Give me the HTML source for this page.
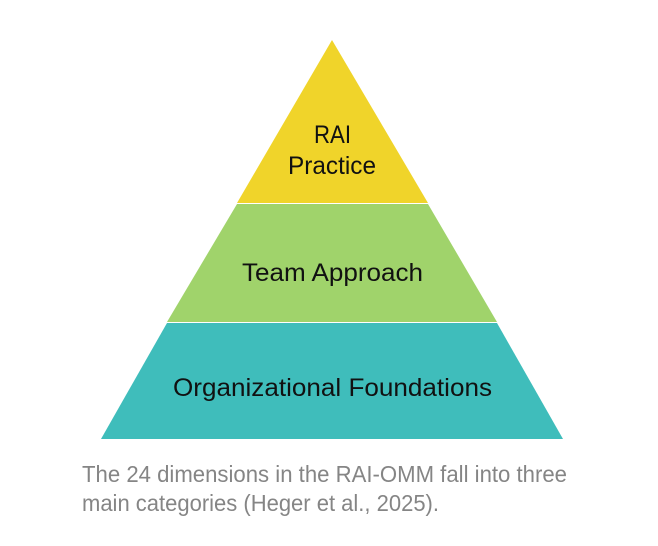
<!DOCTYPE html>
<html><head><meta charset="utf-8"><style>
html,body{margin:0;padding:0;background:#fff;}
svg{display:block;}
</style></head><body>
<svg width="658" height="546" viewBox="0 0 658 546" xmlns="http://www.w3.org/2000/svg">
<rect width="658" height="546" fill="#fff"/>
<polygon points="332,40 428,203 237,203" fill="#F0D42A"/>
<polygon points="237,204 428,204 497,322 167,322" fill="#A0D36B"/>
<polygon points="167,323 497,323 563,439 101,439" fill="#3FBDBB"/>
<g font-family="'Liberation Sans',sans-serif" font-size="25" fill="#111">
<text x="314" y="143" textLength="37" lengthAdjust="spacingAndGlyphs">RAI</text>
<text x="288" y="174" textLength="88" lengthAdjust="spacingAndGlyphs">Practice</text>
<text x="242" y="281" textLength="181" lengthAdjust="spacingAndGlyphs">Team Approach</text>
<text x="173" y="396" textLength="319" lengthAdjust="spacingAndGlyphs">Organizational Foundations</text>
</g>
<g font-family="'Liberation Sans',sans-serif" font-size="23" fill="#858585">
<text x="82" y="482" textLength="485" lengthAdjust="spacingAndGlyphs">The 24 dimensions in the RAI-OMM fall into three</text>
<text x="82" y="511" textLength="357" lengthAdjust="spacingAndGlyphs">main categories (Heger et al., 2025).</text>
</g>
</svg>
</body></html>
